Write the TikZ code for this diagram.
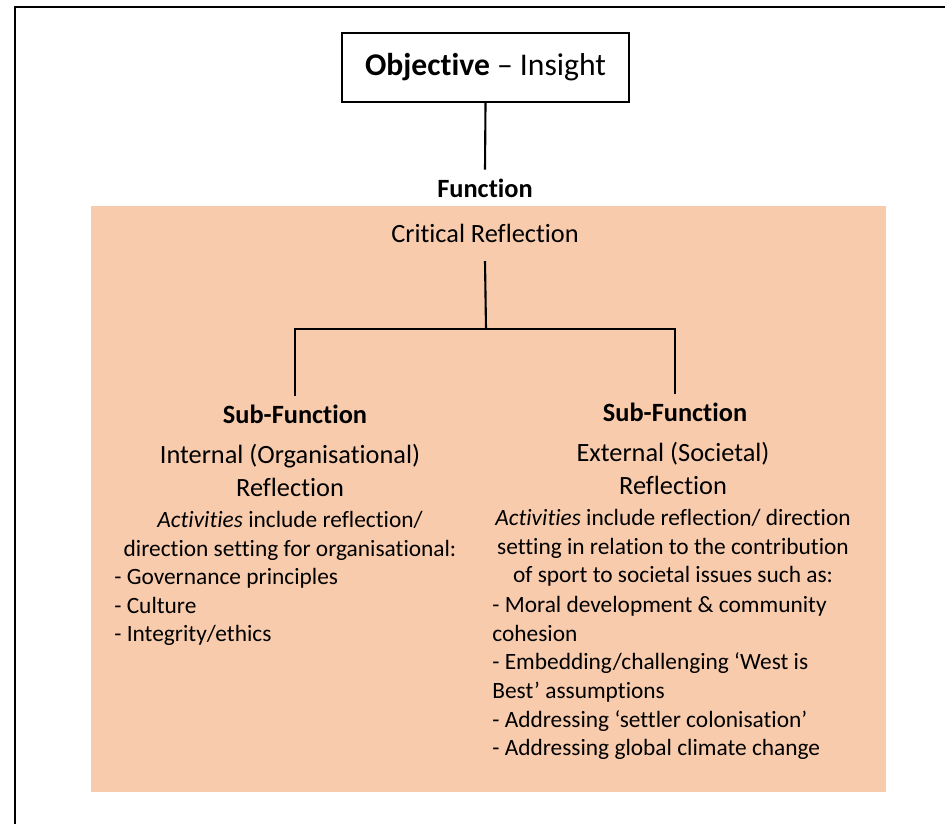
\documentclass[tikz,border=0pt]{standalone}
\usepackage{fontspec}
\setmainfont{Carlito}[Ligatures={TeX,NoCommon}]
\usepackage{tikz}
\usetikzlibrary{positioning}
\definecolor{panelorange}{HTML}{F8CBAD}

\begin{document}
\begin{tikzpicture}[
  x=0.02cm, y=-0.02cm,
  objbox/.style={draw, line width=1.2pt, minimum width=5.74cm, minimum height=1.38cm, font=\fontsize{18}{22}\selectfont},
  headtxt/.style={font=\bfseries\fontsize{15}{18}\selectfont, inner sep=5pt},
  nametxt/.style={align=center, inner sep=0pt, font=\fontsize{15}{18.7}\selectfont},
  bodytxt/.style={align=center, inner sep=0pt, font=\fontsize{13.3}{16.2}\selectfont},
  listtxt/.style={align=left, inner sep=0pt, font=\fontsize{13.3}{16.3}\selectfont},
  link/.style={line width=1.2pt}
]
  \useasboundingbox (0,0) rectangle (945,824);

  % outer frame
  \draw[line width=1.2pt] (15,824) -- (15,7) -- (945,7);

  % shaded panel
  \node[fill=panelorange, minimum width=15.9cm, minimum height=11.72cm, inner sep=0pt] (panel) at (488.5,499) {};

  % Objective
  \node[objbox] (obj) at (485.5,67.5) {\textbf{Objective} -- Insight};
  \node[headtxt] (func) at (485,188) {Function};
  \draw[link] (obj.south) -- (func.north);

  % Function
  \node[font=\fontsize{15}{18}\selectfont, inner xsep=5pt, inner ysep=10.5pt] (crit) at (485,233) {Critical Reflection};
  \coordinate (split) at (486,329);

  % Sub-functions
  \node[headtxt] (subl) at (295,414) {Sub-Function};
  \node[headtxt] (subr) at (675,412) {Sub-Function};

  % Tree
  \draw[link] (crit.south) -- (split);
  \draw[link] (subl.north) |- (split) -| (subr.north);

  % Internal
  \node[nametxt, anchor=north] (namel) at (290,444) {Internal (Organisational)\\Reflection};
  \node[bodytxt, anchor=north] (actl) at (290,511) {\textit{Activities} include reflection/\\direction setting for organisational:};
  \node[listtxt, anchor=north west] (listl) at (114,568) {- Governance principles\\- Culture\\- Integrity/ethics};

  % External
  \node[nametxt, anchor=north] (namer) at (673,442) {External (Societal)\\Reflection};
  \node[bodytxt, anchor=north] (actr) at (673,509) {\textit{Activities} include reflection/ direction\\setting in relation to the contribution\\of sport to societal issues such as:};
  \node[listtxt, anchor=north west] (listr) at (492,596) {- Moral development \& community\\cohesion\\- Embedding/challenging ‘West is\\Best’ assumptions\\- Addressing ‘settler colonisation’\\- Addressing global climate change};
\end{tikzpicture}
\end{document}
